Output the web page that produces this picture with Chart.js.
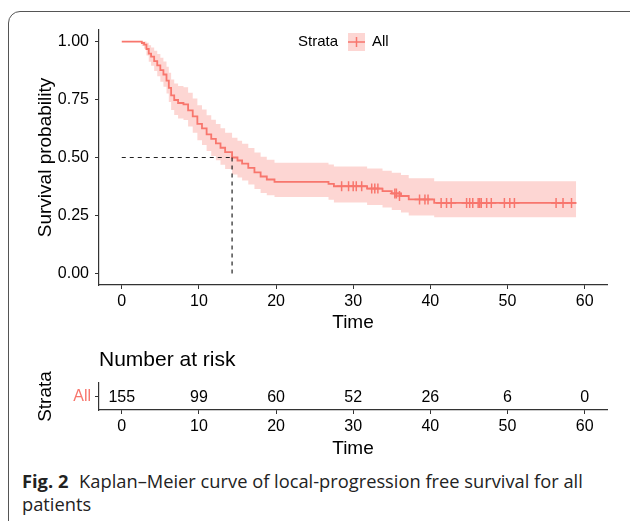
<!DOCTYPE html>
<html>
<head>
<meta charset="utf-8">
<script src="https://cdn.jsdelivr.net/npm/chart.js@4"></script>
<style>
  html, body { margin: 0; padding: 0; background: #fff; }
  #page { position: relative; width: 630px; height: 521px; overflow: hidden; background: #fff; }
  #frame { position: absolute; left: 8px; top: 11px; width: 640px; height: 560px;
    border: 1.3px solid #555; border-radius: 12px; }
  #km { position: absolute; left: 0; top: 0; }
  #risk { position: absolute; left: 0; top: 335px; }
  #caption { position: absolute; left: 22px; top: 469px; font-family: 'Open Sans', Lato, sans-serif;
    font-size: 18.3px; line-height: 23px; color: #222; white-space: nowrap; }
  #caption b { font-weight: 700; margin-right: 6px; }
</style>
</head>
<body>
<div id="page">
  <div id="frame"></div>
  <canvas id="km" width="630" height="335"></canvas>
  <canvas id="risk" width="630" height="130"></canvas>
  <div id="caption"><b>Fig. 2</b> Kaplan–Meier curve of local-progression free survival for all<br>patients</div>
</div>
<script>
// Kaplan-Meier estimate (time in months)
const kmTimes = [0, 2.6, 2.9, 3.2, 3.5, 3.8, 4.2, 4.6, 5.0, 5.4, 5.8, 6.1, 6.4, 6.8, 7.3, 8.0, 8.6, 9.2, 9.8, 10.4,
  11.0, 11.6, 12.2, 12.8, 13.4, 14.3, 15.0, 15.6, 16.4, 17.2, 18.0, 18.8, 19.8, 26.8, 27.5, 31.8, 33.8, 35.0,
  36.2, 37.2, 40.5, 58.9]
const kmSurv = [1, 0.994, 0.987, 0.968, 0.948, 0.935, 0.916, 0.897, 0.877, 0.858, 0.832, 0.8, 0.768, 0.748, 0.735,
  0.729, 0.703, 0.677, 0.645, 0.626, 0.6, 0.58, 0.561, 0.542, 0.523, 0.5, 0.487, 0.474, 0.455, 0.436, 0.418,
  0.405, 0.395, 0.386, 0.376, 0.366, 0.355, 0.345, 0.334, 0.319, 0.304, 0.304]
const kmLower = [1, 0.981, 0.969, 0.94, 0.913, 0.896, 0.873, 0.85, 0.827, 0.805, 0.776, 0.739, 0.705, 0.683, 0.668,
  0.662, 0.634, 0.607, 0.574, 0.554, 0.528, 0.507, 0.488, 0.469, 0.45, 0.427, 0.414, 0.401, 0.383, 0.364, 0.347,
  0.337, 0.33, 0.318, 0.306, 0.295, 0.284, 0.274, 0.263, 0.25, 0.242, 0.242]
const kmUpper = [1, 1, 1, 0.995, 0.984, 0.975, 0.961, 0.946, 0.93, 0.914, 0.892, 0.866, 0.837, 0.819, 0.808,
  0.803, 0.779, 0.755, 0.725, 0.707, 0.682, 0.663, 0.645, 0.626, 0.607, 0.585, 0.572, 0.559, 0.541, 0.522,
  0.503, 0.49, 0.477, 0.47, 0.461, 0.453, 0.443, 0.434, 0.424, 0.41, 0.398, 0.398]

// censored observations
const censorTimes = [28.5, 29.4, 30.0, 30.4, 31.1, 32.4, 32.8, 33.2, 35.4, 35.6, 36.0, 38.6, 39.3, 39.7,
  41.4, 42.1, 42.7, 44.7, 45.1, 45.5, 46.2, 46.4, 46.6, 47.3, 47.9, 49.6, 50.3, 50.9, 56.3, 57.2, 58.3]
const censorSurv = [0.376, 0.376, 0.376, 0.376, 0.376, 0.366, 0.366, 0.366, 0.345, 0.345, 0.334, 0.319, 0.319,
  0.319, 0.304, 0.304, 0.304, 0.304, 0.304, 0.304, 0.304, 0.304, 0.304, 0.304, 0.304, 0.304, 0.304, 0.304,
  0.304, 0.304, 0.304]

const medianTime = 14.3
const medianSurv = 0.5

const xTicks = [0, 10, 20, 30, 40, 50, 60]
const yTicks = [0, 0.25, 0.5, 0.75, 1]
const strata = ['All']
const riskTimes = [0, 10, 20, 30, 40, 50, 60]
const riskCounts = [155, 99, 60, 52, 26, 6, 0]

const red = '#F8766D'
const band = 'rgba(248, 118, 109, 0.3)'
const axisColor = '#333'
const font = 'Liberation Sans, Arial, sans-serif'

function points(xs, ys) {
  return xs.map((x, i) => ({ x: x, y: ys[i] }))
}

function setTicks(values) {
  return scale => {
    scale.ticks = values.map(v => ({ value: v }))
  }
}

const legendPlugin = {
  id: 'kmLegend',
  afterDraw(chart) {
    const ctx = chart.ctx
    ctx.save()
    ctx.font = '15px ' + font
    ctx.fillStyle = '#000'
    ctx.textBaseline = 'middle'
    ctx.textAlign = 'left'
    ctx.fillText('Strata', 298, 42)
    ctx.fillStyle = band
    ctx.fillRect(348, 33, 17, 18)
    ctx.strokeStyle = red
    ctx.lineWidth = 1.5
    ctx.beginPath()
    ctx.moveTo(348, 42)
    ctx.lineTo(365, 42)
    ctx.moveTo(356.5, 37)
    ctx.lineTo(356.5, 47)
    ctx.stroke()
    ctx.fillStyle = '#000'
    ctx.fillText('All', 372, 42)
    ctx.restore()
  },
}

new Chart(document.getElementById('km'), {
  type: 'line',
  data: {
    datasets: [
      {
        data: points(kmTimes, kmUpper),
        stepped: 'before',
        borderWidth: 0,
        pointRadius: 0,
        backgroundColor: band,
        fill: '+1',
        order: 5,
      },
      {
        data: points(kmTimes, kmLower),
        stepped: 'before',
        borderWidth: 0,
        pointRadius: 0,
        fill: false,
        order: 5,
      },
      {
        data: points(kmTimes, kmSurv),
        stepped: 'before',
        borderColor: red,
        borderWidth: 1.8,
        pointRadius: 0,
        fill: false,
        order: 2,
      },
      {
        type: 'scatter',
        data: points(censorTimes, censorSurv),
        pointStyle: 'cross',
        pointRadius: 5,
        borderColor: red,
        borderWidth: 1.5,
        order: 1,
      },
      {
        data: [{ x: 0, y: medianSurv }, { x: medianTime, y: medianSurv }],
        borderColor: '#222',
        borderWidth: 1.2,
        borderDash: [4, 4],
        pointRadius: 0,
        fill: false,
        order: 0,
      },
      {
        data: [{ x: medianTime, y: medianSurv }, { x: medianTime, y: 0 }],
        borderColor: '#222',
        borderWidth: 1.2,
        borderDash: [4, 4],
        pointRadius: 0,
        fill: false,
        order: 0,
      },
    ],
  },
  options: {
    responsive: false,
    animation: false,
    layout: { padding: { top: 30, right: 23, left: 0, bottom: 0 } },
    plugins: { legend: { display: false }, tooltip: { enabled: false } },
    scales: {
      x: {
        type: 'linear',
        min: -2.95,
        max: 62.9,
        afterBuildTicks: setTicks(xTicks),
        afterFit: scale => { scale.height = 50 },
        grid: { drawOnChartArea: false, drawTicks: true, tickLength: 4, color: axisColor },
        border: { color: axisColor, width: 1.2 },
        ticks: { color: '#000', font: { family: font, size: 16 }, padding: 3, maxRotation: 0 },
        title: { display: true, text: 'Time', color: '#000', font: { family: font, size: 19 }, padding: { top: 0, bottom: 1 } },
      },
      y: {
        type: 'linear',
        min: -0.05,
        max: 1.05,
        afterBuildTicks: setTicks(yTicks),
        afterFit: scale => { scale.width = 99 },
        grid: { drawOnChartArea: false, drawTicks: true, tickLength: 4, color: axisColor },
        border: { color: axisColor, width: 1.2 },
        ticks: { color: '#000', font: { family: font, size: 16 }, padding: 6, callback: v => v.toFixed(2) },
        title: { display: true, text: 'Survival probability', color: '#000', font: { family: font, size: 19 }, padding: { top: 34, bottom: 0 } },
      },
    },
  },
  plugins: [legendPlugin],
})

const riskPlugin = {
  id: 'riskTable',
  afterDraw(chart) {
    const ctx = chart.ctx
    const xs = chart.scales.x
    const ys = chart.scales.y
    ctx.save()
    ctx.fillStyle = '#000'
    ctx.font = '21px ' + font
    ctx.textAlign = 'left'
    ctx.textBaseline = 'middle'
    ctx.fillText('Number at risk', chart.chartArea.left, 25)
    ctx.font = '16px ' + font
    ctx.textAlign = 'center'
    riskTimes.forEach((t, i) => {
      ctx.fillText(String(riskCounts[i]), xs.getPixelForValue(t), ys.getPixelForValue(0) + 1)
    })
    ctx.restore()
  },
}

new Chart(document.getElementById('risk'), {
  type: 'line',
  data: { labels: strata, datasets: [] },
  options: {
    responsive: false,
    animation: false,
    layout: { padding: { top: 48, right: 23, left: 0, bottom: 0 } },
    plugins: { legend: { display: false }, tooltip: { enabled: false } },
    scales: {
      x: {
        type: 'linear',
        min: -2.95,
        max: 62.9,
        afterBuildTicks: setTicks(xTicks),
        afterFit: scale => { scale.height = 55 },
        grid: { drawOnChartArea: false, drawTicks: true, tickLength: 4, color: axisColor },
        border: { color: axisColor, width: 1.2 },
        ticks: { color: '#000', font: { family: font, size: 16 }, padding: 3, maxRotation: 0 },
        title: { display: true, text: 'Time', color: '#000', font: { family: font, size: 19 }, padding: { top: 0, bottom: 5 } },
      },
      y: {
        type: 'category',
        labels: strata,
        offset: true,
        afterFit: scale => { scale.width = 99 },
        grid: { drawOnChartArea: false, drawTicks: true, tickLength: 4, color: axisColor, offset: false },
        border: { color: axisColor, width: 1.2 },
        ticks: { color: red, font: { family: font, size: 16 }, padding: 4 },
        title: { display: true, text: 'Strata', color: '#000', font: { family: font, size: 19 }, padding: { top: 34, bottom: 0 } },
      },
    },
  },
  plugins: [riskPlugin],
})
</script>
</body>
</html>
